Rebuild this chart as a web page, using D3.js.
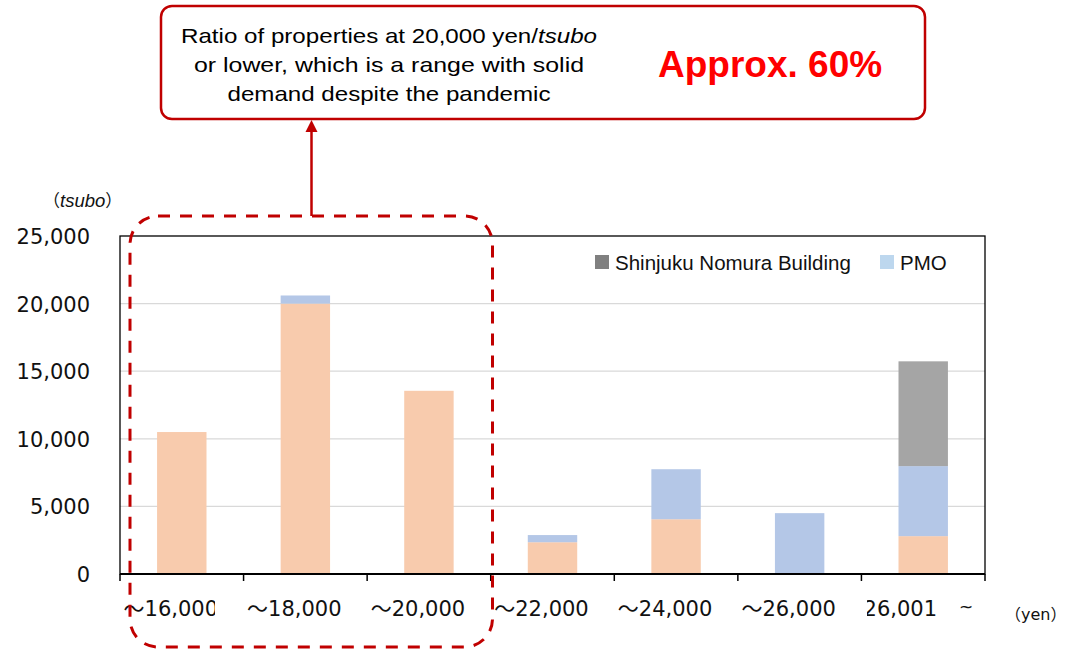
<!DOCTYPE html>
<html>
<head>
<meta charset="utf-8">
<script src="https://cdn.jsdelivr.net/npm/d3@7"></script>
<style>
  html, body { margin: 0; padding: 0; background: #fff; }
  svg { display: block; }
</style>
</head>
<body>
<div id="chart"></div>
<script>
// rent bands (yen / tsubo) and floor area (tsubo)
const categories = ["～16,000", "～18,000", "～20,000", "～22,000", "～24,000", "～26,000", "26,001"];
const otherValues = [10500, 20000, 13550, 2350, 4050, 0, 2800];
const pmoValues = [0, 600, 0, 530, 3700, 4500, 5180];
const nomuraValues = [0, 0, 0, 0, 0, 0, 7750];
const yTicks = [0, 5000, 10000, 15000, 20000, 25000];

const seriesKeys = ["other", "pmo", "nomura"];
const seriesColors = { other: "#F8CBAD", pmo: "#B4C7E7", nomura: "#A5A5A5" };
const legendItems = [
  { label: "Shinjuku Nomura Building", color: "#808080" },
  { label: "PMO", color: "#BDD7EE" },
];

const calloutLines = [
  ["Ratio of properties at 20,000 yen/", "tsubo"],
  ["or lower, which is a range with solid"],
  ["demand despite the pandemic"],
];

const W = 1072, H = 651;
const plot = { left: 120, right: 985, top: 236, bottom: 574 };
const red = "#C00000";

const svg = d3.select("#chart").append("svg")
  .attr("width", W).attr("height", H);

const rows = categories.map((c, i) => ({
  cat: c, other: otherValues[i], pmo: pmoValues[i], nomura: nomuraValues[i],
}));

const x = d3.scaleBand().domain(categories)
  .range([plot.left, plot.right]).paddingInner(0.6).paddingOuter(0.3);
const y = d3.scaleLinear().domain([0, 25000]).range([plot.bottom, plot.top]);

// gridlines
svg.append("g").selectAll("line")
  .data(yTicks.filter((t) => t > 0 && t < 25000))
  .join("line")
  .attr("x1", plot.left).attr("x2", plot.right)
  .attr("y1", (d) => y(d)).attr("y2", (d) => y(d))
  .attr("stroke", "#D9D9D9").attr("stroke-width", 1.3);

// stacked bars
const stacked = d3.stack().keys(seriesKeys)(rows);
svg.append("g").selectAll("g")
  .data(stacked)
  .join("g")
  .attr("fill", (s) => seriesColors[s.key])
  .selectAll("rect")
  .data((s) => s.filter((d) => d[1] > d[0]))
  .join("rect")
  .attr("x", (d) => x(d.data.cat))
  .attr("width", x.bandwidth())
  .attr("y", (d) => y(d[1]))
  .attr("height", (d) => y(d[0]) - y(d[1]));

// frame
svg.append("rect")
  .attr("x", plot.left).attr("y", plot.top)
  .attr("width", plot.right - plot.left).attr("height", plot.bottom - plot.top)
  .attr("fill", "none").attr("stroke", "#000").attr("stroke-width", 1.3);

// x axis (ticks between categories)
const xAxis = svg.append("g");
xAxis.append("line")
  .attr("x1", plot.left).attr("x2", plot.right)
  .attr("y1", plot.bottom).attr("y2", plot.bottom)
  .attr("stroke", "#000").attr("stroke-width", 2);
const step = x.step();
const boundaries = d3.range(categories.length + 1).map((i) => plot.left + i * step);
xAxis.selectAll(".tick")
  .data(boundaries)
  .join("line")
  .attr("x1", (d) => d).attr("x2", (d) => d)
  .attr("y1", plot.bottom).attr("y2", plot.bottom + 7)
  .attr("stroke", "#000").attr("stroke-width", 1.5);

// clips for the two cut-off labels
const defs = svg.append("defs");
defs.append("clipPath").attr("id", "clipFirst")
  .append("rect").attr("x", 100).attr("y", 590).attr("width", 115).attr("height", 40);
defs.append("clipPath").attr("id", "clipLast")
  .append("rect").attr("x", 867).attr("y", 590).attr("width", 120).attr("height", 40);

const last = categories.length - 1;
xAxis.selectAll(".xlabel")
  .data(categories)
  .join("text")
  .attr("x", (d, i) => i === last ? 937 : x(d) + x.bandwidth() / 2 - 11)
  .attr("y", 616)
  .attr("text-anchor", (d, i) => i === last ? "end" : "middle")
  .attr("clip-path", (d, i) => i === 0 ? "url(#clipFirst)" : i === last ? "url(#clipLast)" : null)
  .attr("font-family", "'DejaVu Sans', 'Noto Sans CJK JP', sans-serif")
  .attr("font-size", 21)
  .attr("fill", "#111")
  .text((d) => d);
xAxis.append("text")
  .attr("x", 959).attr("y", 613)
  .attr("font-family", "'DejaVu Sans', sans-serif")
  .attr("font-size", 17).attr("fill", "#111")
  .text("~");

// y labels
svg.append("g").selectAll("text")
  .data(yTicks)
  .join("text")
  .attr("x", 90).attr("y", (d) => y(d) + 8)
  .attr("text-anchor", "end")
  .attr("font-family", "'DejaVu Sans', sans-serif")
  .attr("font-size", 21).attr("fill", "#111")
  .text((d) => d3.format(",")(d));

// unit labels
const tsubo = svg.append("text").attr("x", 43).attr("y", 207)
  .attr("font-family", "'Liberation Sans', Arial, sans-serif")
  .attr("font-size", 18.5).attr("fill", "#111");
tsubo.append("tspan").attr("font-family", "'Noto Sans CJK JP'").attr("font-size", 17).text("（");
tsubo.append("tspan").attr("font-style", "italic").text("tsubo");
tsubo.append("tspan").attr("font-family", "'Noto Sans CJK JP'").attr("font-size", 17).text("）");

const yen = svg.append("text").attr("x", 1005).attr("y", 620)
  .attr("font-family", "'DejaVu Sans', sans-serif")
  .attr("font-size", 16).attr("fill", "#111");
yen.append("tspan").attr("font-family", "'Noto Sans CJK JP'").text("（");
yen.append("tspan").text("yen");
yen.append("tspan").attr("font-family", "'Noto Sans CJK JP'").text("）");

// legend
const legendX = [595, 880];
const legend = svg.append("g").selectAll("g")
  .data(legendItems)
  .join("g")
  .attr("transform", (d, i) => `translate(${legendX[i]},255)`);
legend.append("rect").attr("width", 14).attr("height", 14).attr("fill", (d) => d.color);
legend.append("text").attr("x", 20).attr("y", 15)
  .attr("font-family", "'Liberation Sans', Arial, sans-serif")
  .attr("font-size", 20.5).attr("fill", "#111")
  .text((d) => d.label);

// dashed highlight around the first three bands
svg.append("rect")
  .attr("x", 130).attr("y", 216).attr("width", 362.5).attr("height", 431)
  .attr("rx", 28).attr("ry", 28)
  .attr("fill", "none").attr("stroke", red)
  .attr("stroke-width", 3).attr("stroke-dasharray", "12,10");

// arrow up to the callout
svg.append("line")
  .attr("x1", 311.5).attr("x2", 311.5).attr("y1", 216).attr("y2", 130)
  .attr("stroke", red).attr("stroke-width", 2.5);
svg.append("path")
  .attr("d", "M311.5,120 L317.5,132 L305.5,132 Z")
  .attr("fill", red);

// callout box
svg.append("rect")
  .attr("x", 161).attr("y", 6).attr("width", 764).attr("height", 113)
  .attr("rx", 11).attr("ry", 11)
  .attr("fill", "#fff").attr("stroke", red).attr("stroke-width", 2.5);

const lineWidths = [416, 390, 323];
svg.append("g").selectAll("text")
  .data(calloutLines)
  .join("text")
  .attr("x", 389).attr("y", (d, i) => 43 + i * 29)
  .attr("text-anchor", "middle")
  .attr("font-family", "'Liberation Sans', Arial, sans-serif")
  .attr("font-size", 21).attr("fill", "#000")
  .attr("textLength", (d, i) => lineWidths[i])
  .attr("lengthAdjust", "spacingAndGlyphs")
  .each(function (parts) {
    const t = d3.select(this);
    t.append("tspan").text(parts[0]);
    if (parts[1]) t.append("tspan").attr("font-style", "italic").text(parts[1]);
  });

svg.append("text")
  .attr("x", 658).attr("y", 77)
  .attr("font-family", "'Liberation Sans', Arial, sans-serif")
  .attr("font-weight", "bold").attr("font-size", 37)
  .attr("fill", "#FF0000")
  .text("Approx. 60%");
</script>
</body>
</html>
